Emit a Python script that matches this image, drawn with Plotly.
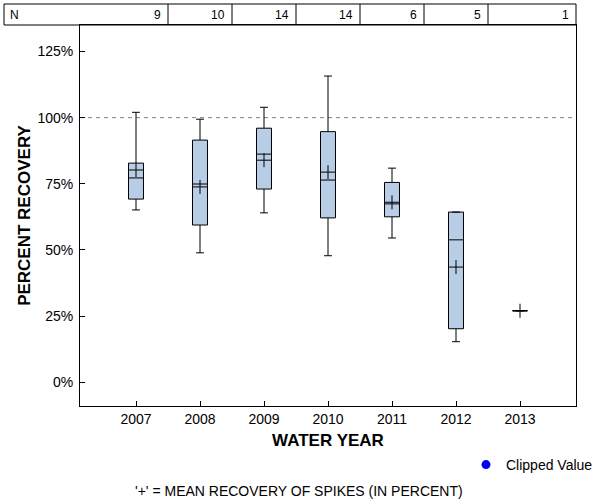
import plotly.graph_objects as go

# ---- data (percent recovery) ----
years = [2007, 2008, 2009, 2010, 2011, 2012, 2013]
n_counts = [9, 10, 14, 14, 6, 5, 1]
whisker_low = [65.1, 48.9, 64.0, 47.8, 54.5, 15.3, 27.0]
q1 = [69.2, 59.4, 73.0, 62.1, 62.5, 20.2, 27.0]
median = [77.2, 74.9, 86.2, 76.4, 67.4, 53.8, 27.0]
q3 = [82.8, 91.5, 96.0, 94.7, 75.5, 64.3, 27.0]
whisker_high = [102.0, 99.4, 103.9, 115.7, 80.9, 64.3, 27.0]
means = [80.2, 73.8, 83.9, 79.4, 68.0, 43.5, 27.0]
y_ticks = [0, 25, 50, 75, 100, 125]
y_tick_labels = ["0%", "25%", "50%", "75%", "100%", "125%"]

FONT = "Liberation Sans, Arial, sans-serif"
X_RANGE = [2006.125, 2013.875]
Y_RANGE = [-9, 135]

fig = go.Figure()

fig.add_trace(go.Box(
    x=years, q1=q1, median=median, q3=q3,
    lowerfence=whisker_low, upperfence=whisker_high,
    width=0.234, whiskerwidth=0.53,
    fillcolor="#b8cee6", line=dict(color="black", width=1),
    boxpoints=False, showlegend=False, hoverinfo="skip",
))

fig.add_trace(go.Scatter(
    x=years, y=means, mode="markers",
    marker=dict(symbol="cross-thin", size=10, color="black",
                line=dict(color="black", width=1)),
    showlegend=False, hoverinfo="skip",
))

fig.add_trace(go.Scatter(
    x=[None], y=[None], mode="markers", name="Clipped Value",
    marker=dict(symbol="circle", size=9, color="#0000ff"),
))

# 100% reference line
fig.add_shape(type="line", xref="paper", yref="y", x0=0, x1=1, y0=100, y1=100,
              line=dict(color="#808080", width=1, dash="4px,4px"), layer="below")

# N table above plot
tbl_left = -76 / 496
tbl_top = 1 + 21 / 381
fig.add_shape(type="rect", xref="paper", yref="paper",
              x0=tbl_left, x1=1, y0=1, y1=tbl_top,
              line=dict(color="black", width=1))
col_edges = [y + 0.5 for y in years[:-1]]
for e in col_edges:
    fig.add_shape(type="line", xref="x", yref="paper", x0=e, x1=e, y0=1, y1=tbl_top,
                  line=dict(color="black", width=1))
fig.add_annotation(text="N", xref="paper", yref="paper", x=tbl_left, y=(1 + tbl_top) / 2,
                   xanchor="left", yanchor="middle", xshift=4, showarrow=False,
                   font=dict(family=FONT, size=12, color="black"))
right_edges = col_edges + [X_RANGE[1]]
for e, n in zip(right_edges, n_counts):
    fig.add_annotation(text=str(n), xref="x", yref="paper", x=e, y=(1 + tbl_top) / 2,
                       xanchor="right", yanchor="middle", xshift=-5, showarrow=False,
                       font=dict(family=FONT, size=12, color="black"))

# caption
fig.add_annotation(text="'+' = MEAN RECOVERY OF SPIKES (IN PERCENT)",
                   xref="paper", yref="paper", x=(299 - 80) / 496, y=(406 - 491) / 381,
                   xanchor="center", yanchor="middle", showarrow=False,
                   font=dict(family=FONT, size=14, color="black"))

fig.update_layout(
    width=600, height=500,
    margin=dict(l=80, r=24, t=25, b=94, autoexpand=False),
    paper_bgcolor="white", plot_bgcolor="white",
    font=dict(family=FONT, size=14, color="black"),
    showlegend=True,
    legend=dict(x=(466 - 80) / 496, y=(406 - 465) / 381, xanchor="left", yanchor="middle",
                bgcolor="rgba(0,0,0,0)", font=dict(family=FONT, size=14, color="black")),
    xaxis=dict(
        range=X_RANGE, tickvals=years, ticktext=[str(y) for y in years],
        ticks="inside", ticklen=5, tickcolor="black",
        showline=True, linecolor="black", linewidth=1, mirror=True,
        showgrid=False, zeroline=False,
        tickfont=dict(family=FONT, size=14, color="black"),
        title=dict(text="<b>WATER YEAR</b>", standoff=8,
                   font=dict(family=FONT, size=17, color="black")),
    ),
    yaxis=dict(
        range=Y_RANGE, tickvals=y_ticks, ticktext=y_tick_labels,
        ticks="inside", ticklen=5, tickcolor="black",
        showline=True, linecolor="black", linewidth=1, mirror=True,
        showgrid=False, zeroline=False, ticklabelstandoff=3,
        tickfont=dict(family=FONT, size=14, color="black"),
        title=dict(text="<b>PERCENT RECOVERY</b>", standoff=2,
                   font=dict(family=FONT, size=17, color="black")),
    ),
)

fig.write_html("out.html", config={"displayModeBar": False},
               post_script="document.body.style.margin='0';")
